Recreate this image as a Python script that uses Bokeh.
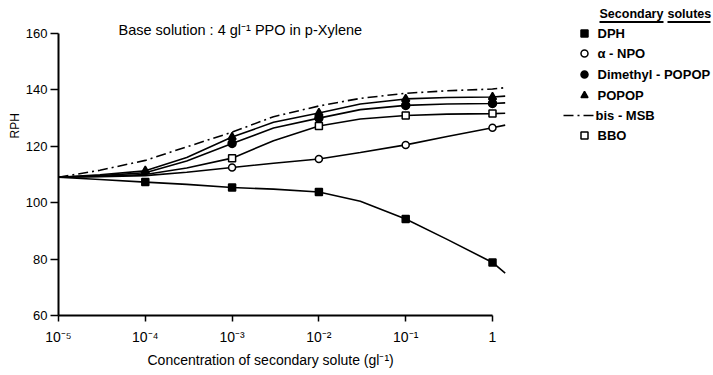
import math
from bokeh.plotting import figure
from bokeh.models import Range1d, FixedTicker, CustomJSTickFormatter, Label, Title
from bokeh.embed import file_html
from bokeh.resources import INLINE

# ---------------- data ----------------
# concentration nodes at which the drawn curves were read (g/l);
# the last node is where the curves end, just right of 1 g/l
concentrations = [1e-5, 3e-5, 1e-4, 3e-4, 1e-3, 3e-3, 1e-2, 3e-2, 1e-1, 3e-1, 1.0, 1.4]

series_names = ["DPH", "α - NPO", "Dimethyl - POPOP", "POPOP", "bis - MSB", "BBO"]

dph_rph     = [109.0, 108.2, 107.3, 106.5, 105.4, 104.8, 103.8, 100.5, 94.2, 87.0, 78.8, 75.0]
anpo_rph    = [109.0, 109.2, 109.6, 110.8, 112.5, 114.0, 115.5, 117.8, 120.5, 123.5, 126.6, 127.5]
dmpopop_rph = [109.0, 109.6, 110.6, 114.8, 121.0, 126.5, 130.0, 133.0, 134.5, 135.0, 135.2, 135.4]
popop_rph   = [109.0, 109.9, 111.3, 116.0, 123.3, 128.5, 131.8, 135.0, 136.8, 137.3, 137.5, 137.8]
bismsb_rph  = [109.0, 111.5, 115.0, 119.8, 125.0, 130.5, 134.3, 137.0, 138.8, 139.7, 140.3, 140.8]
bbo_rph     = [109.0, 109.4, 110.0, 112.3, 115.8, 122.0, 127.2, 129.7, 130.9, 131.4, 131.6, 131.7]

# concentrations at which a measured point (marker) is shown
dph_measured     = [1e-4, 1e-3, 1e-2, 1e-1, 1.0]
anpo_measured    = [1e-3, 1e-2, 1e-1, 1.0]
dmpopop_measured = [1e-3, 1e-2, 1e-1, 1.0]
popop_measured   = [1e-4, 1e-3, 1e-2, 1e-1, 1.0]
bismsb_measured  = []
bbo_measured     = [1e-3, 1e-2, 1e-1, 1.0]

x_tick_values = [1e-5, 1e-4, 1e-3, 1e-2, 1e-1, 1.0]
x_tick_labels = ["10⁻⁵", "10⁻⁴", "10⁻³", "10⁻²", "10⁻¹", "1"]
y_tick_values = [60, 80, 100, 120, 140, 160]

title_text = "Base solution : 4 gl⁻¹  PPO in p-Xylene"
x_label = "Concentration of secondary solute (gl⁻¹)"
y_label = "RPH"
legend_title_words = ["Secondary", "solutes"]

# ---------------- layout (page pixels) ----------------
FRAME_L, FRAME_R, FRAME_T, FRAME_B = 58, 712, 8, 315
PX_PER_DECADE = 86.8
PX_PER_UNIT = 2.82
X_MIN, Y_MIN = 1e-5, 60.0

def px_x(px):
    return 10 ** (math.log10(X_MIN) + (px - FRAME_L) / PX_PER_DECADE)

def px_y(py):
    return Y_MIN + (FRAME_B - py) / PX_PER_UNIT

W = FRAME_R
H = 372

FONT = "Liberation Sans"

p = figure(width=W, height=H, x_axis_type="log",
           x_range=Range1d(X_MIN, px_x(FRAME_R)),
           y_range=Range1d(Y_MIN, px_y(FRAME_T)),
           output_backend="svg", toolbar_location=None,
           min_border_left=FRAME_L, min_border_right=0,
           min_border_top=FRAME_T, min_border_bottom=H - FRAME_B)
p.outline_line_color = None
p.grid.visible = False
p.background_fill_color = "white"
p.border_fill_color = "white"

# x axis
xa = p.xaxis[0]
xa.ticker = FixedTicker(ticks=x_tick_values)
xa.formatter = CustomJSTickFormatter(args=dict(vals=x_tick_values, labs=x_tick_labels), code="""
let best = 0, d = Infinity;
for (let i = 0; i < vals.length; i++) {
  const dd = Math.abs(Math.log10(vals[i]) - Math.log10(tick));
  if (dd < d) { d = dd; best = i; }
}
return labs[best];
""")
xa.bounds = (x_tick_values[0], x_tick_values[-1])
xa.major_tick_in = 0
xa.major_tick_out = 6
xa.minor_tick_line_color = None
xa.axis_line_width = 2
xa.major_tick_line_width = 1.5
xa.major_label_text_font = FONT
xa.major_label_text_font_size = "14px"
xa.major_label_text_color = "black"
xa.major_label_standoff = 7

# y axis
ya = p.yaxis[0]
ya.ticker = FixedTicker(ticks=y_tick_values)
ya.bounds = (y_tick_values[0], y_tick_values[-1])
ya.major_tick_in = 0
ya.major_tick_out = 8
ya.minor_tick_line_color = None
ya.axis_line_width = 2
ya.major_tick_line_width = 1.5
ya.major_label_text_font = FONT
ya.major_label_text_font_size = "13px"
ya.major_label_text_color = "black"
ya.major_label_standoff = 3

# axis titles, placed as in the reference (off-centre)
p.add_layout(Title(text=x_label, align="left", offset=147 - FRAME_L,
                   text_font=FONT, text_font_size="14px", text_font_style="normal",
                   text_color="black", standoff=4), "below")
p.add_layout(Title(text=y_label, align="left", offset=FRAME_B - 138,
                   text_font=FONT, text_font_size="12px", text_font_style="normal",
                   text_color="black", standoff=2), "left")

# curves and markers
curves = [dph_rph, anpo_rph, dmpopop_rph, popop_rph, bismsb_rph, bbo_rph]
measured = [dph_measured, anpo_measured, dmpopop_measured, popop_measured,
            bismsb_measured, bbo_measured]
markers = ["square", "circle", "circle", "triangle", None, "square"]
fills = ["black", "white", "black", "black", None, "white"]
sizes = [7, 7, 8, 8, 0, 7]
dashes = ["solid", "solid", "solid", "solid", "10 4 2 4", "solid"]

for rph, meas, mk, fc, sz, dash in zip(curves, measured, markers, fills, sizes, dashes):
    p.line(concentrations, rph, line_color="black", line_width=1.6, line_dash=dash)
    if mk and meas:
        ys = [rph[concentrations.index(c)] for c in meas]
        p.scatter(meas, ys, marker=mk, size=sz, fill_color=fc,
                  line_color="black", line_width=1.5)

# chart note
p.add_layout(Label(x=px_x(118), y=px_y(29), text=title_text, text_font=FONT,
                   text_font_size="14.5px", text_baseline="middle", text_align="left",
                   text_color="black"))

# legend (drawn by hand, as in the reference): underlined heading words
heading_x = [599, 667]
heading_end = [663, 710]
for word, hx, he in zip(legend_title_words, heading_x, heading_end):
    p.add_layout(Label(x=px_x(hx), y=px_y(13), text=word, text_font=FONT,
                       text_font_style="bold", text_font_size="12.5px",
                       text_baseline="middle", text_align="left", text_color="black"))
    p.segment(x0=[px_x(hx)], y0=[px_y(21.5)], x1=[px_x(he)], y1=[px_y(21.5)],
              line_color="black", line_width=2)

LEG_MARK_X, LEG_TEXT_X = 584, 597
leg_rows_y = [33, 53, 74, 95, 115, 135]
for name, mk, fc, dash, ry in zip(series_names, markers, fills, dashes, leg_rows_y):
    tx = LEG_TEXT_X
    if mk:
        p.scatter([px_x(LEG_MARK_X)], [px_y(ry)], marker=mk, size=7, fill_color=fc,
                  line_color="black", line_width=1.5)
    else:
        p.line([px_x(563), px_x(593)], [px_y(ry), px_y(ry)], line_color="black",
               line_width=1.6, line_dash=dash)
        tx = 595
    p.add_layout(Label(x=px_x(tx), y=px_y(ry), text=name, text_font=FONT,
                       text_font_style="bold", text_font_size="13px",
                       text_baseline="middle", text_align="left", text_color="black"))

open("out.html", "w").write(file_html(p, INLINE))
